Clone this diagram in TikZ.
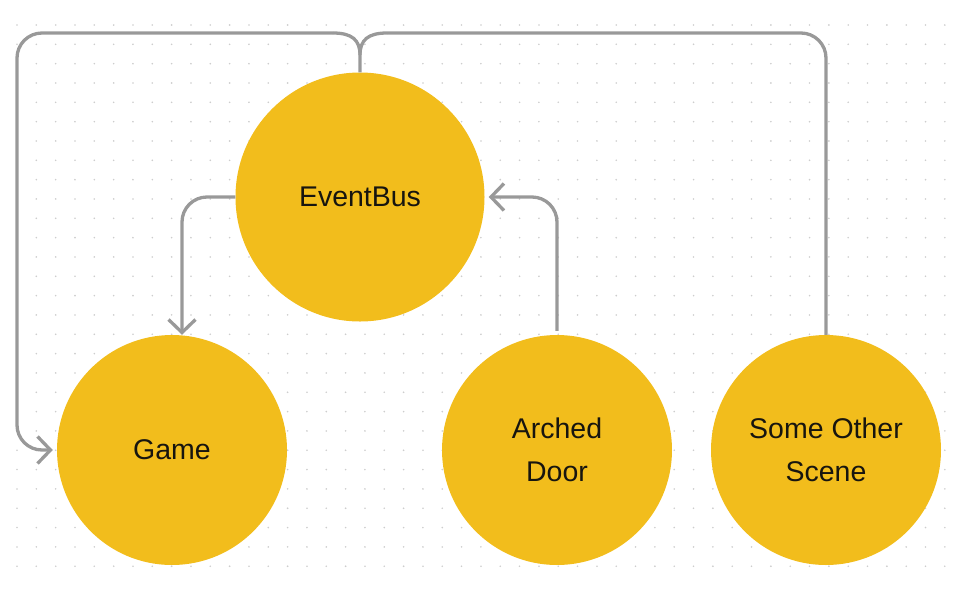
\documentclass[tikz,border=0pt]{standalone}
\usepackage{fontspec}
\setmainfont{Liberation Sans}
\usetikzlibrary{arrows.meta}
\definecolor{amarillo}{HTML}{F2BD1C}
\definecolor{linea}{HTML}{999999}
\definecolor{punto}{HTML}{CDCDCD}
\definecolor{texto}{HTML}{17150F}
\begin{document}
\begin{tikzpicture}[x=1pt,y=-1pt,
    bubble/.style={circle,fill=amarillo,inner sep=0pt,align=center,text=texto,
      font=\fontsize{28.5}{43}\selectfont},
    wire/.style={draw=linea,line width=3.3pt,rounded corners=25pt},
    tip/.style={-{Straight Barb[length=13pt,width=27pt]}}]
        \useasboundingbox (0,0) rectangle (962,590);
        %Cuadricula de puntos del fondo
        \foreach \i in {0,...,48} {
            \foreach \j in {0,...,28} {
                \fill[punto] (17+19.33*\i,25+19.33*\j) circle (0.9pt);
            }
        }

        %Cada circulo es una escena o el bus
        \node[bubble,minimum size=249pt] (eventbus) at (360,197) {EventBus};
        \node[bubble,minimum size=230pt] (game) at (172,450) {Game};
        \node[bubble,minimum size=230pt] (archeddoor) at (557,450) {Arched\\Door};
        \node[bubble,minimum size=230pt] (otherscene) at (826,450) {Some Other\\Scene};

        %Puntos del cruce de arriba
        \coordinate (cruce) at (360,55);
        \coordinate (izq) at (333,33);
        \coordinate (der) at (387,33);

        %Conexiones
        \draw[wire] (otherscene.north) |- (der);
        \draw[draw=linea,line width=3.3pt] (der) .. controls (368,33) and (360,40) .. (cruce) -- (eventbus.north);
        \draw[draw=linea,line width=3.3pt] (cruce) .. controls (360,40) and (352,33) .. (izq);
        \draw[wire,tip,shorten >=4pt] (izq) -- (17,33) |- (game.west);
        \draw[wire,tip] (eventbus.west) -| ([xshift=10pt]game.north);
        \draw[wire,tip,shorten >=4pt,shorten <=4pt] (archeddoor.north) |- (eventbus.east);
\end{tikzpicture}
\end{document}
